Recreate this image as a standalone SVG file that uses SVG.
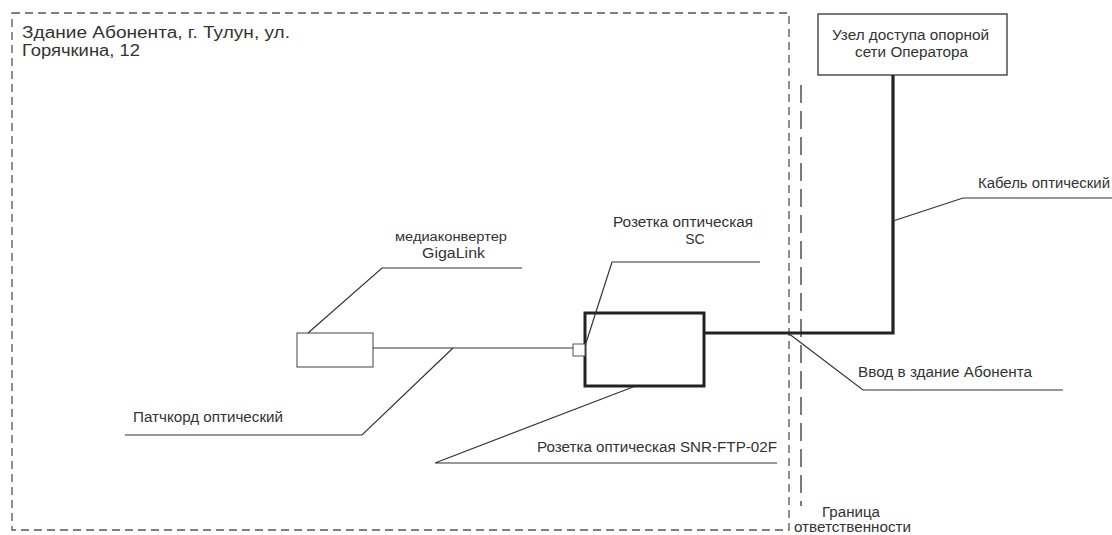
<svg xmlns="http://www.w3.org/2000/svg" width="1112" height="535" viewBox="0 0 1112 535">
<style>
text{font-family:"Liberation Sans",Arial,sans-serif;fill:#333;}
.t13{font-size:14px;}
.t15{font-size:16px;}
.t11{font-size:12px;}
.thin{fill:none;stroke:#333;stroke-width:1.2;}
.thick{fill:none;stroke:#222;stroke-width:3.2;}
.bld{fill:none;stroke:#555;stroke-width:1.3;stroke-dasharray:8 5;}
.bnd{fill:none;stroke:#444;stroke-width:1.4;stroke-dasharray:18 8;}
</style>
<rect width="1112" height="535" fill="#fff"/>
<g id="building">
<rect class="bld" x="12" y="13" width="777" height="517"/>
<text class="t15" x="22" y="38" textLength="268" lengthAdjust="spacingAndGlyphs">Здание Абонента, г. Тулун, ул.</text>
<text class="t15" x="22" y="56" textLength="118" lengthAdjust="spacingAndGlyphs">Горячкина, 12</text>
</g>
<g id="boundary">
<line class="bnd" x1="801" y1="85" x2="801" y2="506"/>
<text class="t13" x="822" y="517" textLength="58" lengthAdjust="spacingAndGlyphs">Граница</text>
<text class="t13" x="794" y="532" textLength="117" lengthAdjust="spacingAndGlyphs">ответственности</text>
</g>
<g id="operator-node">
<rect x="818" y="14" width="189" height="61" fill="#fff" stroke="#333" stroke-width="1.3"/>
<text class="t13" x="832" y="40" textLength="157" lengthAdjust="spacingAndGlyphs">Узел доступа опорной</text>
<text class="t13" x="855" y="57" textLength="113" lengthAdjust="spacingAndGlyphs">сети Оператора</text>
</g>
<g id="mediaconverter">
<rect x="297" y="333" width="76" height="34" fill="#fff" stroke="#555" stroke-width="1.1"/>
<text class="t11" x="395" y="241" textLength="112" lengthAdjust="spacingAndGlyphs">медиаконвертер</text>
<text class="t13" x="422" y="258" textLength="63" lengthAdjust="spacingAndGlyphs">GigaLink</text>
</g>
<g id="socket-snr">
<rect x="585" y="313" width="119" height="73" fill="#fff" stroke="#222" stroke-width="3"/>
<text class="t13" x="537" y="452" textLength="240" lengthAdjust="spacingAndGlyphs">Розетка оптическая SNR-FTP-02F</text>
</g>
<g id="socket-sc">
<rect x="573" y="344" width="12" height="12" fill="#fff" stroke="#555" stroke-width="1"/>
<text class="t13" x="613" y="227" textLength="140" lengthAdjust="spacingAndGlyphs">Розетка оптическая</text>
<text class="t13" x="695" y="244" text-anchor="middle">SC</text>
</g>
<g id="labels">
<text class="t13" x="133" y="422" textLength="150" lengthAdjust="spacingAndGlyphs">Патчкорд оптический</text>
<text class="t13" x="978" y="188" textLength="132" lengthAdjust="spacingAndGlyphs">Кабель оптический</text>
<text class="t13" x="858" y="377" textLength="174" lengthAdjust="spacingAndGlyphs">Ввод в здание Абонента</text>
</g>
<g id="connectors">
<line class="thin" x1="373" y1="348" x2="573" y2="348" stroke-width="1.8"/>
<polyline class="thick" points="704,333 893,333 893,75"/>
<polyline class="thin" points="308,333 382,268 522,268"/>
<polyline class="thin" points="453,348 362,435 125,435"/>
<polyline class="thin" points="586,343 612,262 760,262"/>
<polyline class="thin" points="633,387 435,463 777,463"/>
<polyline class="thin" points="893,221 963,198 1112,198"/>
<polyline class="thin" points="788,333 863,390 1063,390"/>
</g>
</svg>
